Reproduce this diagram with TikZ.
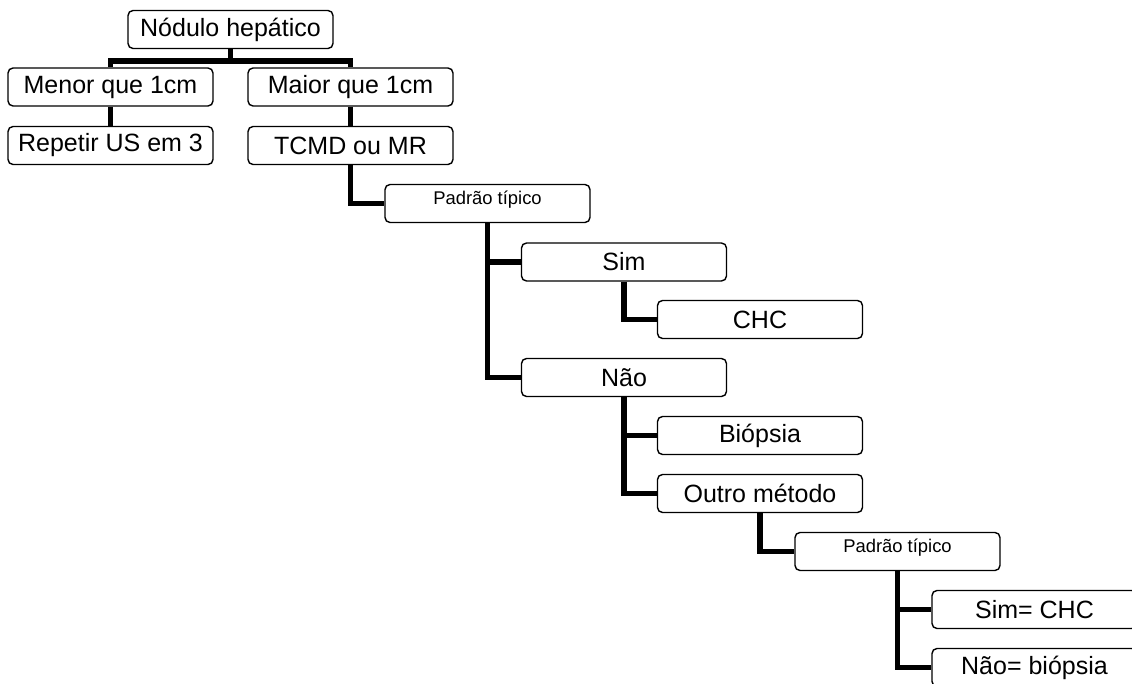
\documentclass[tikz,border=0pt]{standalone}
\usepackage{fontspec}
\setmainfont{Liberation Sans}
\usepackage{tikz}

\begin{document}
\begin{tikzpicture}[x=0.5pt, y=-0.5pt,
    caixa/.style={draw, rounded corners=2.5pt, line width=0.7pt, minimum width=102.5pt,
      minimum height=19pt, inner sep=0pt, font=\fontsize{12.5}{14}\selectfont},
    pequena/.style={caixa, font=\fontsize{9.2}{11}\selectfont, text height=7pt, text depth=6pt},
    liga/.style={line width=2.6pt}]
                \useasboundingbox (0,0) rectangle (1132,684);
                \clip (0,0) rectangle (1132,684);
                \node[caixa] (nodulo) at (230.5,29.5) {Nódulo hepático};
                \node[caixa] (menor) at (110.5,87) {Menor que 1cm};
                \node[caixa] (maior) at (350.5,87) {Maior que 1cm};
                \node[caixa] (repetir) at (110.5,145.5) {Repetir US em 3};
                \node[caixa] (tcmd) at (350.5,145.5) {TCMD ou MR};
                \node[pequena] (padrao) at (487.5,203.5) {Padrão típico};
                \node[caixa] (sim) at (624,262) {Sim};
                \node[caixa] (chc) at (760,319.5) {CHC};
                \node[caixa] (nao) at (624,377.5) {Não};
                \node[caixa] (biopsia) at (760,435.5) {Biópsia};
                \node[caixa] (outro) at (760,493.5) {Outro método};
                \node[pequena] (padraoB) at (897.5,551.5) {Padrão típico};
                \node[caixa] (simchc) at (1034.5,609.5) {Sim= CHC};
                \node[caixa] (naobiopsia) at (1034.5,667.5) {Não= biópsia};
                \coordinate (barra) at (230.5,61);
                \draw[liga] (nodulo.south) -- (barra);
                \draw[liga] (barra) -| (menor.north);
                \draw[liga] (barra) -| (maior.north);
                \draw[liga] (menor.south) -- (repetir.north);
                \draw[liga] (maior.south) -- (tcmd.north);
                \draw[liga] (tcmd.south) |- (padrao.west);
                \draw[liga] (padrao.south) |- (sim.west);
                \draw[liga] (padrao.south) |- (nao.west);
                \draw[liga] (sim.south) |- (chc.west);
                \draw[liga] (nao.south) |- (biopsia.west);
                \draw[liga] (nao.south) |- (outro.west);
                \draw[liga] (outro.south) |- (padraoB.west);
                \draw[liga] (padraoB.south) |- (simchc.west);
                \draw[liga] (padraoB.south) |- (naobiopsia.west);
            \end{tikzpicture}
\end{document}
